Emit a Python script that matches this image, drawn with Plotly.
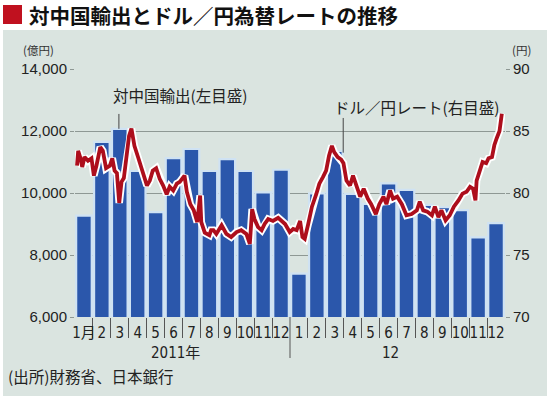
import calendar
import plotly.graph_objects as go

# ---------------- data ----------------
bar_years = [2011] * 12 + [2012] * 12
bar_month_nums = list(range(1, 13)) * 2
month_labels = ["1月", "2", "3", "4", "5", "6", "7", "8", "9", "10", "11", "12",
                "1", "2", "3", "4", "5", "6", "7", "8", "9", "10", "11", "12"]
exports = [9270, 11650, 12070, 10710, 9380, 11125, 11420, 10710, 11090, 10710, 10020, 10750,
           7400, 9990, 11360, 9970, 9650, 10310, 10100, 9620, 9540, 9450, 8570, 9030]

rate_dates = [
    "2011-01-04", "2011-01-06", "2011-01-10", "2011-01-13", "2011-01-17", "2011-01-23", "2011-01-29",
    "2011-02-02", "2011-02-06", "2011-02-12", "2011-02-16", "2011-02-21", "2011-02-27",
    "2011-03-03", "2011-03-07", "2011-03-11", "2011-03-15", "2011-03-19", "2011-03-23", "2011-03-27",
    "2011-04-01", "2011-04-05", "2011-04-10", "2011-04-16", "2011-04-22", "2011-04-27",
    "2011-05-01", "2011-05-06", "2011-05-11", "2011-05-17", "2011-05-23", "2011-05-29",
    "2011-06-04", "2011-06-09", "2011-06-15", "2011-06-21", "2011-06-26",
    "2011-07-04", "2011-07-08", "2011-07-14", "2011-07-20", "2011-07-26", "2011-07-31",
    "2011-08-02", "2011-08-08", "2011-08-16", "2011-08-19", "2011-08-23", "2011-08-28",
    "2011-09-06", "2011-09-14", "2011-09-22",
    "2011-10-01", "2011-10-09", "2011-10-18", "2011-10-24", "2011-10-28",
    "2011-11-01", "2011-11-07", "2011-11-13", "2011-11-18", "2011-11-24",
    "2011-12-02", "2011-12-11", "2011-12-17", "2011-12-23", "2011-12-31",
    "2012-01-06", "2012-01-12", "2012-01-18", "2012-01-22", "2012-01-26",
    "2012-02-01", "2012-02-07", "2012-02-14", "2012-02-19", "2012-02-25",
    "2012-03-01", "2012-03-06", "2012-03-11", "2012-03-15", "2012-03-21", "2012-03-27", "2012-03-31",
    "2012-04-05", "2012-04-11", "2012-04-16", "2012-04-22", "2012-04-28",
    "2012-05-04", "2012-05-11", "2012-05-17", "2012-05-25", "2012-05-31",
    "2012-06-07", "2012-06-12", "2012-06-18", "2012-06-23", "2012-06-30",
    "2012-07-08", "2012-07-16", "2012-07-25",
    "2012-08-03", "2012-08-08", "2012-08-14", "2012-08-21", "2012-08-29",
    "2012-09-03", "2012-09-09", "2012-09-14", "2012-09-21", "2012-09-28",
    "2012-10-05", "2012-10-13", "2012-10-20", "2012-10-27",
    "2012-11-02", "2012-11-07", "2012-11-11", "2012-11-13", "2012-11-18", "2012-11-23", "2012-11-29",
    "2012-12-03", "2012-12-09", "2012-12-13", "2012-12-17", "2012-12-22", "2012-12-26",
]
rate_values = [
    82.2, 83.4, 82.8, 82.1, 82.9, 82.6, 82.8,
    81.4, 82.2, 83.7, 83.4, 82.0, 82.2,
    82.8, 81.8, 81.6, 79.2, 80.9, 81.2, 82.8,
    84.6, 85.2, 83.8, 82.9, 82.0, 81.4,
    80.6, 81.0, 81.8, 82.0, 81.15, 80.6,
    79.9, 80.5, 80.2, 80.75, 80.9,
    81.4, 80.1, 79.1, 78.6, 77.65, 79.8,
    77.65, 76.8, 76.6, 77.0, 77.0, 76.7,
    77.4, 76.7, 76.45,
    76.85, 77.0, 76.7, 75.9, 78.7,
    77.9, 77.25, 77.0, 77.5, 77.9,
    77.75, 78.0, 77.75, 77.5, 76.85,
    77.1, 77.0, 77.75, 76.45, 76.3,
    77.5, 78.9, 79.9, 80.75, 81.3,
    81.8, 83.0, 83.8, 83.3, 82.9, 82.7, 82.4,
    81.0, 80.6, 81.4, 80.5, 79.7,
    80.35, 79.55, 79.1, 78.3, 79.1,
    79.7, 79.1, 80.2, 79.55, 79.7,
    79.1, 78.2, 78.3,
    78.6, 79.3, 78.6, 78.5, 78.2,
    78.9, 78.05, 78.6, 77.8, 78.2,
    78.9, 79.4, 79.95, 80.1,
    80.5, 80.35, 79.4, 81.0, 81.7, 82.5, 82.4,
    82.8, 82.9, 83.85, 84.4, 85.0, 86.4,
]

# ---------------- helpers ----------------
BASE_YEAR = 2011


def month_pos(date_str):
    y, m, d = (int(p) for p in date_str.split("-"))
    dim = calendar.monthrange(y, m)[1]
    return (y - BASE_YEAR) * 12 + (m - 1) + (d - 0.5) / dim


bar_x = [(y - BASE_YEAR) * 12 + (m - 1) + 0.5 for y, m in zip(bar_years, bar_month_nums)]
rate_x = [month_pos(d) for d in rate_dates]

W, H = 550, 398
ML, MR, MT, MB = 75, 45, 69, 81
PW, PH = W - ML - MR, H - MT - MB


def px(x):
    return (x - ML) / PW


def py(y):
    return (H - MB - y) / PH


JP = "Noto Sans CJK JP"
NUM = "Liberation Sans, Arial, " + JP
NARROW = "Liberation Sans Narrow, Arial Narrow, DejaVu Sans Condensed, Liberation Sans, " + JP
RED = "#ad0e1c"
BLUE = "#2b57ab"
GRID = "#8e9894"

fig = go.Figure()
fig.add_trace(go.Bar(
    x=bar_x, y=exports, width=0.87,
    marker=dict(color=BLUE, line=dict(color="#cfe2f3", width=2.2)),
    hoverinfo="skip", showlegend=False,
))
fig.add_trace(go.Scatter(
    x=rate_x, y=rate_values, yaxis="y2", mode="lines",
    line=dict(color="white", width=7.5), hoverinfo="skip", showlegend=False,
))
fig.add_trace(go.Scatter(
    x=rate_x, y=rate_values, yaxis="y2", mode="lines",
    line=dict(color=RED, width=3.8), hoverinfo="skip", showlegend=False,
))

fig.update_layout(
    width=W, height=H,
    margin=dict(l=ML, r=MR, t=MT, b=MB, pad=0, autoexpand=False),
    paper_bgcolor="white",
    plot_bgcolor="rgba(0,0,0,0)",
    xaxis=dict(
        range=[0, 24], tickmode="array", tickvals=bar_x, ticktext=month_labels,
        ticks="outside", ticklen=2, tickcolor="rgba(0,0,0,0)", tickangle=0,
        tickfont=dict(family=NARROW, size=15, color="#222"),
        showgrid=False, zeroline=False, showline=False, fixedrange=True, automargin=False,
        minor=dict(tickmode="array", tickvals=[i for i in range(1, 24) if i != 12],
                   ticks="outside", ticklen=20, tickcolor="#555", tickwidth=1, showgrid=False),
    ),
    yaxis=dict(
        range=[6000, 14000], tickmode="array", tickvals=[6000, 8000, 10000, 12000, 14000],
        ticktext=["6,000", "8,000", "10,000", "12,000", "14,000"],
        showgrid=True, gridcolor=GRID, gridwidth=1,
        ticks="outside", ticklen=4, tickcolor=GRID,
        tickfont=dict(family=NUM, size=15, color="#222"),
        zeroline=False, showline=False, fixedrange=True, automargin=False,
    ),
    yaxis2=dict(
        range=[70, 90], overlaying="y", side="right", tickmode="array",
        tickvals=[70, 75, 80, 85, 90],
        showgrid=False, ticks="outside", ticklen=4, tickcolor=GRID,
        tickfont=dict(family=NUM, size=15, color="#222"),
        zeroline=False, showline=False, fixedrange=True, automargin=False,
    ),
    bargap=0,
    shapes=[
        dict(type="rect", xref="paper", yref="paper", x0=px(3), x1=px(547), y0=py(396), y1=py(30),
             fillcolor="#dae4e0", line=dict(width=0), layer="below"),
        dict(type="rect", xref="paper", yref="paper", x0=px(3), x1=px(22), y0=py(24), y1=py(5),
             fillcolor="#c0111f", line=dict(width=0)),
        dict(type="line", xref="x", yref="paper", x0=12, x1=12, y0=0, y1=py(358),
             line=dict(color="#555", width=1)),
        dict(type="line", xref="x", yref="y", x0=bar_x[2] - 0.05, x1=bar_x[2] - 0.05,
             y0=exports[2], y1=12550, line=dict(color="#444", width=1)),
        dict(type="line", xref="x", yref="y", x0=14.97, x1=14.97,
             y0=11300, y1=12420, line=dict(color="#444", width=1)),
    ],
    annotations=[
        dict(text="<b>対中国輸出とドル／円為替レートの推移</b>", xref="paper", yref="paper",
             x=px(27), y=py(14.5), xanchor="left", yanchor="middle", showarrow=False,
             font=dict(family=JP, size=20.5, color="#111")),
        dict(text="(億円)", xref="paper", yref="paper", x=px(21), y=py(50),
             xanchor="left", yanchor="middle", showarrow=False,
             font=dict(family=JP, size=11.5, color="#333")),
        dict(text="(円)", xref="paper", yref="paper", x=px(510), y=py(50),
             xanchor="left", yanchor="middle", showarrow=False,
             font=dict(family=JP, size=11.5, color="#333")),
        dict(text="対中国輸出(左目盛)", xref="paper", yref="paper", x=px(180), y=py(95.5),
             xanchor="center", yanchor="middle", showarrow=False,
             font=dict(family=JP, size=15.5, color="#222")),
        dict(text="ドル／円レート(右目盛)", xref="paper", yref="paper", x=px(416), y=py(107),
             xanchor="center", yanchor="middle", showarrow=False,
             font=dict(family=JP, size=15.5, color="#222")),
        dict(text="2011年", xref="paper", yref="paper", x=px(175), y=py(353),
             xanchor="center", yanchor="middle", showarrow=False,
             font=dict(family=NARROW, size=15, color="#222")),
        dict(text="12", xref="paper", yref="paper", x=px(390), y=py(353),
             xanchor="center", yanchor="middle", showarrow=False,
             font=dict(family=NARROW, size=15, color="#222")),
        dict(text="(出所)財務省、日本銀行", xref="paper", yref="paper", x=px(6), y=py(376),
             xanchor="left", yanchor="middle", showarrow=False,
             font=dict(family=JP, size=15.5, color="#222")),
    ],
)

fig.write_html(
    "out.html", include_plotlyjs=True,
    config={"displayModeBar": False, "staticPlot": True},
    post_script="document.body.style.margin='0';document.body.style.overflow='hidden';",
)
